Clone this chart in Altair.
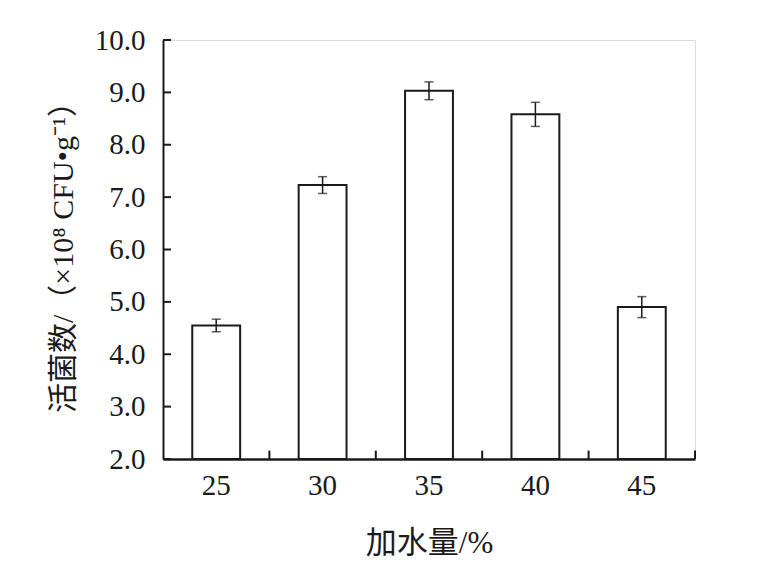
import altair as alt
import pandas as pd

categories = ["25", "30", "35", "40", "45"]
values = [4.55, 7.23, 9.03, 8.58, 4.90]
errors = [0.12, 0.16, 0.17, 0.23, 0.20]
y_ticks = [2, 3, 4, 5, 6, 7, 8, 9, 10]

df = pd.DataFrame({"cat": categories, "val": values, "err": errors})
df["lo"] = df["val"] - df["err"]
df["hi"] = df["val"] + df["err"]
yt = pd.DataFrame({"v": y_ticks})

W, H = 532, 419
STEP = W / len(categories)
FONT = "Liberation Serif, Noto Sans CJK SC"
INK = "#1a1a1a"

xscale = alt.Scale(paddingInner=0.55, paddingOuter=0.275)
yscale = alt.Scale(domain=[2, 10], nice=False, zero=False)

x_enc = alt.X(
    "cat:N", scale=xscale, sort=categories,
    axis=alt.Axis(title="加水量/%", labelAngle=0, ticks=False, labelPadding=12,
                  titlePadding=28, domainWidth=2.5, domainColor=INK,
                  labelFont=FONT, labelFontSize=29, labelColor=INK,
                  titleFont=FONT, titleFontSize=31, titleFontWeight="normal", titleColor=INK)
)
y_enc = alt.Y(
    "val:Q", scale=yscale,
    axis=alt.Axis(title="活菌数/（×10⁸ CFU•g⁻¹）", values=y_ticks, format=".1f", ticks=False,
                  labelPadding=18, titlePadding=16, domainWidth=2, domainColor=INK,
                  grid=False, labelFont=FONT, labelFontSize=29, labelColor=INK,
                  titleFont=FONT, titleFontSize=30, titleFontWeight="normal", titleColor=INK)
)

bars = alt.Chart(df).mark_bar(fill="white", stroke=INK, strokeWidth=2).encode(
    x=x_enc, y=y_enc, y2=alt.datum(2)
)

err_rule = alt.Chart(df).mark_rule(color=INK, strokeWidth=1.5).encode(
    x=alt.X("cat:N", sort=categories), y=alt.Y("lo:Q"), y2="hi:Q"
)
cap_lo = alt.Chart(df).mark_tick(color=INK, thickness=1.5, size=9, orient="horizontal").encode(
    x=alt.X("cat:N", sort=categories), y=alt.Y("lo:Q")
)
cap_hi = alt.Chart(df).mark_tick(color=INK, thickness=1.5, size=9, orient="horizontal").encode(
    x=alt.X("cat:N", sort=categories), y=alt.Y("hi:Q")
)

x_ticks = alt.Chart(df).mark_rule(color=INK, strokeWidth=2, xOffset=STEP / 2).encode(
    x=alt.X("cat:N", sort=categories), y=alt.datum(2), y2=alt.datum(2.16)
)
y_tick_marks = alt.Chart(yt).mark_rule(color=INK, strokeWidth=2).encode(
    y=alt.Y("v:Q"), x=alt.value(0), x2=alt.value(8)
)

chart = alt.layer(bars, err_rule, cap_lo, cap_hi, x_ticks, y_tick_marks).properties(
    width=W, height=H,
    autosize=alt.AutoSizeParams(type="none"),
    padding={"left": 155, "top": 32, "right": 55, "bottom": 109},
).configure_view(stroke=None).configure(background="white")

chart.save("out.html", embed_options={"renderer": "svg", "actions": False})
